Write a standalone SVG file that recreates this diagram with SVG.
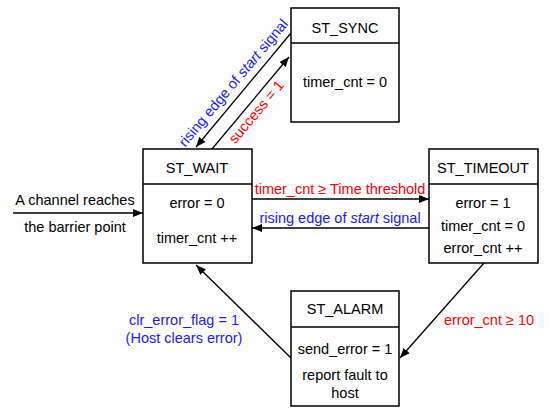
<svg xmlns="http://www.w3.org/2000/svg" width="550" height="417" viewBox="0 0 550 417">
<style>
.box{fill:#fff;stroke:#000;stroke-width:1.5}
.div{stroke:#000;stroke-width:1.3}
text{font-family:"Liberation Sans",Arial,sans-serif;font-size:14.5px;fill:#000;text-anchor:middle}
.red{fill:#ff0000}
.blue{fill:#1a1aff}
.con{stroke:#000;stroke-width:1.3;fill:none;marker-end:url(#ah)}
</style>
<defs>
<marker id="ah" viewBox="0 0 10 10" refX="10" refY="5" markerWidth="10" markerHeight="10" markerUnits="userSpaceOnUse" orient="auto">
<path d="M0,1 L10,5 L0,9 Z" fill="#000"/>
</marker>
</defs>
<rect width="550" height="417" fill="#fff"/>
<g id="connectors">
<line class="con" x1="13" y1="213" x2="143" y2="213"/>
<line class="con" x1="291" y1="33" x2="196" y2="147"/>
<line class="con" x1="212" y1="149" x2="289" y2="57"/>
<line class="con" x1="252" y1="199" x2="429" y2="199"/>
<line class="con" x1="429" y1="228" x2="252" y2="228"/>
<line class="con" x1="484" y1="263" x2="400" y2="358"/>
<line class="con" x1="291" y1="358" x2="196" y2="265"/>
<text x="75" y="205">A channel reaches</text>
<text x="75" y="232">the barrier point</text>
<text class="blue" transform="translate(237,86) rotate(-50)">rising edge of <tspan font-style="italic">start</tspan> signal</text>
<text class="red" transform="translate(260,115) rotate(-50)">success = 1</text>
<text class="red" x="340" y="194">timer_cnt ≥ Time threshold</text>
<text class="blue" x="340" y="223">rising edge of <tspan font-style="italic">start</tspan> signal</text>
<text class="red" x="489" y="325">error_cnt ≥ 10</text>
<text class="blue" x="184" y="325">clr_error_flag = 1</text>
<text class="blue" x="184" y="343">(Host clears error)</text>
</g>
<g id="st_sync">
<rect class="box" x="291" y="8" width="108" height="114"/>
<line class="div" x1="291" y1="43" x2="399" y2="43"/>
<text x="345" y="33">ST_SYNC</text>
<text x="345" y="87">timer_cnt = 0</text>
</g>
<g id="st_wait">
<rect class="box" x="143" y="149" width="109" height="114"/>
<line class="div" x1="143" y1="184" x2="252" y2="184"/>
<text x="197" y="173">ST_WAIT</text>
<text x="197" y="208">error = 0</text>
<text x="197" y="243">timer_cnt ++</text>
</g>
<g id="st_timeout">
<rect class="box" x="429" y="149" width="109" height="114"/>
<line class="div" x1="429" y1="184" x2="538" y2="184"/>
<text x="483" y="173">ST_TIMEOUT</text>
<text x="483" y="208">error = 1</text>
<text x="483" y="231">timer_cnt = 0</text>
<text x="483" y="253">error_cnt ++</text>
</g>
<g id="st_alarm">
<rect class="box" x="291" y="291" width="108" height="115"/>
<line class="div" x1="291" y1="327" x2="399" y2="327"/>
<text x="345" y="314">ST_ALARM</text>
<text x="345" y="354">send_error = 1</text>
<text x="345" y="380">report fault to</text>
<text x="345" y="398">host</text>
</g>
</svg>
